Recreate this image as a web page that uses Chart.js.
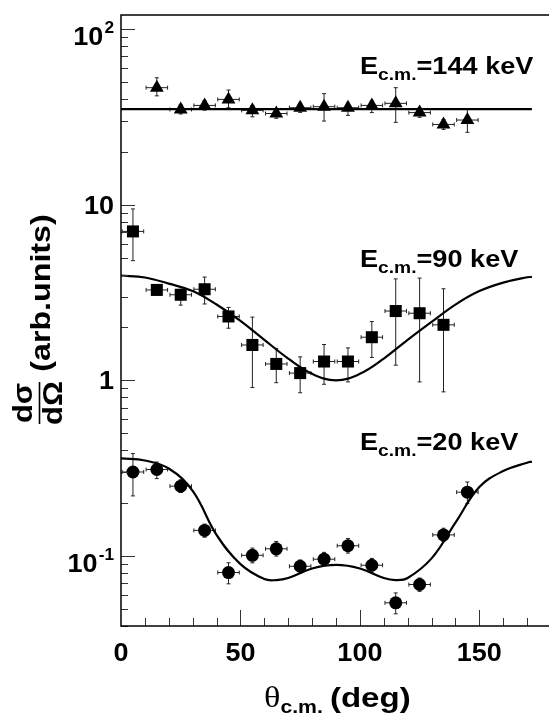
<!DOCTYPE html>
<html>
<head>
<meta charset="utf-8">
<script src="https://cdn.jsdelivr.net/npm/chart.js@4"></script>
<style>
  html, body { margin: 0; padding: 0; background: #fff; overflow: hidden; }
  canvas { display: block; }
</style>
</head>
<body>
<canvas id="myChart" width="560" height="715"></canvas>
<script>
// E_cm = 144 keV (triangles)
const angles144 = [15, 25, 35, 45, 55, 65, 75, 85, 95, 105, 115, 125, 135, 145];
const xs144 = [46.3, 34.8, 36.7, 39.7, 34.4, 33.0, 35.6, 36.1, 35.6, 36.7, 37.7, 33.4, 28.6, 30.3];
const hi144 = [52.7, 37.0, 39.0, 44.9, 36.5, 35.0, 37.8, 42.8, 37.8, 39.0, 46.3, 35.5, 30.5, 35.2];
const lo144 = [41.6, 32.8, 34.5, 35.6, 31.6, 31.0, 33.5, 29.9, 32.2, 33.4, 29.4, 31.4, 26.8, 25.8];

// E_cm = 90 keV (squares)
const angles90 = [5, 15, 25, 35, 45, 55, 65, 75, 85, 95, 105, 115, 125, 135];
const xs90 = [7.04, 3.27, 3.07, 3.30, 2.31, 1.59, 1.24, 1.10, 1.28, 1.28, 1.76, 2.48, 2.41, 2.07];
const hi90 = [9.45, 3.45, 3.30, 3.87, 2.60, 2.29, 1.52, 1.36, 1.60, 1.53, 2.16, 3.78, 3.82, 3.32];
const lo90 = [4.80, 3.10, 2.68, 2.72, 1.98, 0.91, 0.97, 0.85, 0.95, 0.98, 1.35, 1.22, 0.98, 0.86];

// E_cm = 20 keV (circles)
const angles20 = [5, 15, 25, 35, 45, 55, 65, 75, 85, 95, 105, 115, 125, 135, 145];
const xs20 = [0.301, 0.311, 0.250, 0.140, 0.0806, 0.101, 0.110, 0.0875, 0.096, 0.1145, 0.0887, 0.0542, 0.0689, 0.132, 0.231];
const hi20 = [0.383, 0.343, 0.272, 0.152, 0.0916, 0.111, 0.121, 0.095, 0.105, 0.126, 0.097, 0.0617, 0.075, 0.144, 0.264];
const lo20 = [0.220, 0.276, 0.230, 0.128, 0.0695, 0.0915, 0.100, 0.080, 0.088, 0.104, 0.081, 0.0469, 0.063, 0.121, 0.199];

const angleHalfWidth = 4.5;

// fitted curves
const fitAngles144 = [0, 172];
const fit144 = [35, 35];
const fitAngles90 = [0, 10, 20, 30, 40, 50, 60, 70, 80, 90, 100, 110, 120, 130, 140, 150, 160, 170, 172];
const fit90 = [3.95, 3.85, 3.55, 3.22, 2.70, 2.18, 1.70, 1.33, 1.09, 1.00, 1.09, 1.33, 1.70, 2.15, 2.70, 3.22, 3.60, 3.86, 3.88];
const fitAngles20 = [0, 10, 20, 30, 40, 50, 60, 65, 70, 80, 90, 100, 110, 115, 120, 130, 140, 150, 160, 170, 172];
const fit20 = [0.36, 0.35, 0.315, 0.235, 0.132, 0.09, 0.074, 0.073, 0.075, 0.085, 0.089, 0.085, 0.075, 0.073, 0.075, 0.097, 0.155, 0.247, 0.305, 0.34, 0.345];

const xTicks = [0, 50, 100, 150];
const yTicks = [0.1, 1, 10, 100];
const yTickBase = ["10", "1", "10", "10"];
const yTickExp = ["-1", "", "", "2"];

const energyLabels = ["144 keV", "90 keV", "20 keV"];
const energyBaselines = [74, 267, 450];

const FONT = "'Liberation Sans', Arial, Helvetica, sans-serif";
const WIDE = 1.15; // the original lettering runs wider than Liberation Sans

const pts = (xs, ys) => xs.map((v, i) => ({ x: v, y: ys[i] }));

const markerSet = (data, style, radius) => ({
  data: data,
  showLine: false,
  pointStyle: style,
  pointRadius: radius,
  pointBackgroundColor: "#000",
  pointBorderColor: "#000",
  pointBorderWidth: 0
});

const curveSet = (data) => ({
  data: data,
  showLine: true,
  borderColor: "#000",
  borderWidth: 2.2,
  pointRadius: 0,
  tension: 0.4,
  fill: false
});

const errorSets = [
  { ds: 3, hi: hi144, lo: lo144 },
  { ds: 4, hi: hi90, lo: lo90 },
  { ds: 5, hi: hi20, lo: lo20 }
];

const errorBars = {
  id: "errorBars",
  beforeDatasetsDraw(chart) {
    const { ctx, scales: { x, y } } = chart;
    ctx.save();
    ctx.strokeStyle = "#222";
    ctx.lineWidth = 1;
    ctx.beginPath();
    errorSets.forEach(e => {
      chart.data.datasets[e.ds].data.forEach((p, i) => {
        const cx = x.getPixelForValue(p.x);
        const cy = y.getPixelForValue(p.y);
        const xl = x.getPixelForValue(p.x - angleHalfWidth);
        const xr = x.getPixelForValue(p.x + angleHalfWidth);
        const yh = y.getPixelForValue(e.hi[i]);
        const yl = y.getPixelForValue(e.lo[i]);
        ctx.moveTo(xl, cy); ctx.lineTo(xr, cy);
        ctx.moveTo(xl, cy - 2); ctx.lineTo(xl, cy + 2);
        ctx.moveTo(xr, cy - 2); ctx.lineTo(xr, cy + 2);
        ctx.moveTo(cx, yh); ctx.lineTo(cx, yl);
        ctx.moveTo(cx - 2, yh); ctx.lineTo(cx + 2, yh);
        ctx.moveTo(cx - 2, yl); ctx.lineTo(cx + 2, yl);
      });
    });
    ctx.stroke();
    ctx.restore();
  }
};

// text stretched along its own direction
function wideText(ctx, str, x, y, font, align, sx) {
  ctx.save();
  ctx.translate(x, y);
  ctx.scale(sx, 1);
  ctx.font = font;
  ctx.textAlign = align;
  ctx.fillText(str, 0, 0);
  const w = ctx.measureText(str).width * sx;
  ctx.restore();
  return w;
}

function drawRuns(ctx, x, y, runs, sx) {
  ctx.textBaseline = "alphabetic";
  runs.forEach(r => {
    x += wideText(ctx, r.t, x, y + (r.dy || 0), r.font, "left", sx) + (r.gap || 0);
  });
}

const frame = {
  id: "frame",
  afterDraw(chart) {
    const { ctx, chartArea: a, scales: { x, y } } = chart;
    ctx.save();
    // ticks inside the frame
    ctx.strokeStyle = "#333";
    ctx.lineWidth = 1;
    ctx.beginPath();
    for (let v = 10; v < 180; v += 10) {
      const px = Math.round(x.getPixelForValue(v)) + 0.5;
      const len = xTicks.includes(v) ? 16 : 8;
      ctx.moveTo(px, a.bottom);
      ctx.lineTo(px, a.bottom - len);
    }
    for (let e = -2; e <= 2; e++) {
      for (let k = 1; k <= 9; k++) {
        const v = k * Math.pow(10, e);
        if (v < y.min || v > y.max) continue;
        const py = Math.round(y.getPixelForValue(v)) + 0.5;
        ctx.moveTo(a.left, py);
        ctx.lineTo(a.left + (k === 1 ? 14 : 7), py);
      }
    }
    ctx.stroke();

    ctx.strokeStyle = "#000";
    ctx.lineWidth = 1.5;
    ctx.strokeRect(a.left, a.top, a.right - a.left, a.bottom - a.top);

    ctx.fillStyle = "#000";
    // x tick labels
    ctx.textBaseline = "middle";
    xTicks.forEach(v => wideText(ctx, String(v), x.getPixelForValue(v), 654, "bold 25px " + FONT, "center", 1.08));

    // y tick labels
    yTicks.forEach((v, i) => {
      const py = y.getPixelForValue(v);
      let right = 114;
      if (yTickExp[i]) {
        ctx.textBaseline = "alphabetic";
        right -= wideText(ctx, yTickExp[i], right, py + 4, "bold 16px " + FONT, "right", 1.08) + 1;
        ctx.textBaseline = "middle";
        wideText(ctx, yTickBase[i], right, py + 9, "bold 25px " + FONT, "right", 1.08);
      } else {
        ctx.textBaseline = "middle";
        wideText(ctx, yTickBase[i], right, py + 2, "bold 25px " + FONT, "right", 1.08);
      }
    });

    // energy labels
    energyLabels.forEach((t, i) => {
      drawRuns(ctx, 360, energyBaselines[i], [
        { t: "E", font: "bold 24px " + FONT },
        { t: "c.m.", font: "bold 17px " + FONT, dy: 6 },
        { t: "=" + t, font: "bold 24px " + FONT }
      ], 1.13);
    });

    // x title
    drawRuns(ctx, 264, 707, [
      { t: "\u03B8", font: "29px 'Liberation Serif', 'DejaVu Serif', serif" },
      { t: "c.m.", font: "bold 18px " + FONT, dy: 6, gap: 7 },
      { t: "(deg)", font: "bold 28px " + FONT }
    ], 1.18);

    // y title, rotated
    ctx.save();
    ctx.translate(42, 293);
    ctx.rotate(-Math.PI / 2);
    ctx.textBaseline = "middle";
    wideText(ctx, "(arb.units)", 0, 0, "bold 28px " + FONT, "center", WIDE);
    ctx.restore();

    ctx.save();
    ctx.translate(39, 403);
    ctx.rotate(-Math.PI / 2);
    ctx.textBaseline = "middle";
    wideText(ctx, "d\u03C3", 0, -14, "bold 27px " + FONT, "center", WIDE);
    wideText(ctx, "d\u03A9", 0, 16, "bold 27px " + FONT, "center", WIDE);
    ctx.lineWidth = 1.6;
    ctx.beginPath();
    ctx.moveTo(-21, 0.5);
    ctx.lineTo(21, 0.5);
    ctx.stroke();
    ctx.restore();

    ctx.restore();
  }
};

new Chart(document.getElementById("myChart").getContext("2d"), {
  type: "line",
  data: {
    datasets: [
      curveSet(pts(fitAngles144, fit144)),
      curveSet(pts(fitAngles90, fit90)),
      curveSet(pts(fitAngles20, fit20)),
      markerSet(pts(angles144, xs144), "triangle", 8),
      markerSet(pts(angles90, xs90), "rect", 8.5),
      markerSet(pts(angles20, xs20), "circle", 6.5)
    ]
  },
  options: {
    responsive: false,
    animation: false,
    layout: { padding: { left: 121, top: 15, right: 9, bottom: 89 } },
    plugins: { legend: { display: false }, tooltip: { enabled: false } },
    scales: {
      x: { type: "linear", min: 0, max: 180, display: false },
      y: { type: "logarithmic", min: 0.04, max: 120, display: false }
    }
  },
  plugins: [errorBars, frame]
});
</script>
</body>
</html>
